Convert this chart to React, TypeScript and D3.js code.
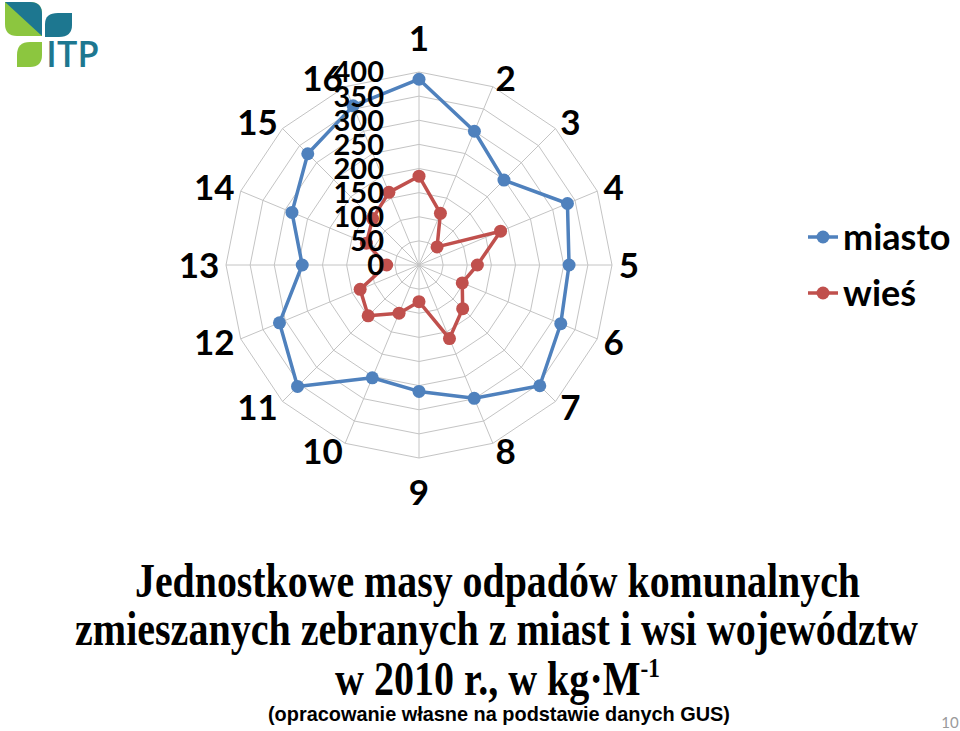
import * as d3 from "d3";

const categories = ["1", "2", "3", "4", "5", "6", "7", "8", "9", "10", "11", "12", "13", "14", "15", "16"];
const miasto = [385, 300, 249, 333, 311, 318, 354, 299, 262, 253, 356, 313, 242, 285, 326, 357];
const wies = [184, 116, 53, 183, 121, 97, 128, 165, 76, 108, 149, 132, 67, 118, 136, 163];
const ticks = [0, 50, 100, 150, 200, 250, 300, 350, 400];
const seriesNames = ["miasto", "wieś"];
const seriesColors = ["#4f81bd", "#c0504d"];

const CX = 419;
const CY = 265;
const R = 193;
const LABEL_FONT = "Lato, 'Open Sans', sans-serif";

export default function App() {
  const r = d3.scaleLinear().domain([0, 400]).range([0, R]);
  const angle = d3
    .scaleLinear()
    .domain([0, categories.length])
    .range([0, 2 * Math.PI]);

  const pt = (i: number, v: number): [number, number] => {
    const a = angle(i);
    return [CX + Math.sin(a) * r(v), CY - Math.cos(a) * r(v)];
  };

  const ringPath = (v: number) =>
    d3.line().curve(d3.curveLinearClosed)(categories.map((_, i) => pt(i, v))) ?? "";

  const series = [miasto, wies];

  return (
    <svg
      width={960}
      height={731}
      style={{ position: "absolute", left: 0, top: 0, background: "#fff" }}
    >
      {/* logo */}
      <g>
        <path d="M5,2 L30,2 Q42,2 42,14 L42,36 L17,36 Q5,36 5,24 Z" fill="#8cc63f" />
        <path d="M5,2 L30,2 Q42,2 42,14 L42,36 Z" fill="#1d7790" />
        <path d="M45,37 L45,24 Q45,13 58,13 L72,13 L72,25 Q72,37 59,37 Z" fill="#1d7790" />
        <path d="M42,42 L42,55 Q42,67 30,67 L17,67 L17,55 Q17,42 30,42 Z" fill="#8cc63f" />
        <text x={46} y={67} fontFamily="'Open Sans', sans-serif" fontWeight={600} fontSize={36} fill="#1d7790">
          ITP
        </text>
      </g>

      {/* grid */}
      <g fill="none" stroke="#c4c4c4" strokeWidth={1}>
        {ticks.slice(1).map((t) => (
          <path key={t} d={ringPath(t)} />
        ))}
        {categories.map((c, i) => {
          const [x, y] = pt(i, 400);
          return <line key={c} x1={CX} y1={CY} x2={x} y2={y} />;
        })}
      </g>

      {/* series */}
      {series.map((s, si) => (
        <g key={si}>
          <path
            d={d3.line().curve(d3.curveLinearClosed)(s.map((v, i) => pt(i, v))) ?? ""}
            fill="none"
            stroke={seriesColors[si]}
            strokeWidth={3.5}
            strokeLinejoin="round"
          />
          {s.map((v, i) => {
            const [x, y] = pt(i, v);
            return <circle key={i} cx={x} cy={y} r={6.5} fill={seriesColors[si]} />;
          })}
        </g>
      ))}

      {/* tick labels */}
      {ticks.map((t) => (
        <text
          key={t}
          x={CX - 35}
          y={CY - r(t)}
          dy="0.36em"
          textAnchor="end"
          fontFamily={LABEL_FONT}
          fontWeight={700}
          fontSize={29}
          fill="#000"
        >
          {t}
        </text>
      ))}

      {/* category labels: box pushed outward from the ring */}
      {categories.map((c, i) => {
        const a = angle(i);
        const ux = Math.sin(a);
        const uy = -Math.cos(a);
        const hw = c.length * 10;
        const x = CX + ux * (R + 7) + (Math.abs(ux) > 0.01 ? Math.sign(ux) * hw : 0);
        const y = CY + uy * (R + 9) + (Math.abs(uy) > 0.99 ? Math.sign(uy) * 25 : 0);
        return (
          <text
            key={c}
            x={x}
            y={y}
            dy="0.36em"
            textAnchor="middle"
            fontFamily={LABEL_FONT}
            fontWeight={700}
            fontSize={35}
            fill="#000"
          >
            {c}
          </text>
        );
      })}

      {/* legend */}
      {seriesNames.map((n, i) => {
        const y = 237 + i * 56;
        return (
          <g key={n}>
            <line x1={808} x2={838} y1={y} y2={y} stroke={seriesColors[i]} strokeWidth={3.5} />
            <circle cx={823} cy={y} r={6.5} fill={seriesColors[i]} />
            <text x={843} y={y} dy="0.36em" fontFamily={LABEL_FONT} fontWeight={700} fontSize={36} fill="#000">
              {n}
            </text>
          </g>
        );
      })}

      {/* title */}
      <g fontFamily="'Liberation Serif', 'Times New Roman', serif" fontWeight={700} fontSize={48} fill="#000">
        <text x={135} y={597} textLength={725} lengthAdjust="spacingAndGlyphs">
          Jednostkowe masy odpadów komunalnych
        </text>
        <text x={75} y={645} textLength={843} lengthAdjust="spacingAndGlyphs">
          zmieszanych zebranych z miast i wsi województw
        </text>
        <text x={335} y={695} textLength={325} lengthAdjust="spacingAndGlyphs">
          w 2010 r., w kg·M
          <tspan fontSize={28} dy={-18}>
            -1
          </tspan>
        </text>
      </g>
      <text
        x={268}
        y={721}
        textLength={462}
        lengthAdjust="spacingAndGlyphs"
        fontFamily="'Liberation Sans', Arial, sans-serif"
        fontWeight={700}
        fontSize={21}
        fill="#000"
      >
        (opracowanie własne na podstawie danych GUS)
      </text>
      <text x={950} y={728} textAnchor="middle" fontFamily={LABEL_FONT} fontSize={15} fill="#9a9a9a">
        10
      </text>
    </svg>
  );
}
